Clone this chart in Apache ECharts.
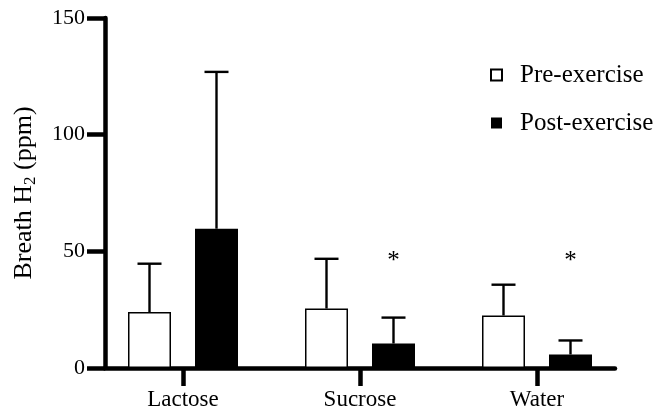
<!DOCTYPE html>
<html><head><meta charset="utf-8">
<script src="https://cdn.jsdelivr.net/npm/echarts@6/dist/echarts.min.js"></script>
<style>html,body{margin:0;padding:0;background:#fff}#c{width:654px;height:415px}</style>
</head><body><div id="c"></div>
<script>
const categories = ['Lactose', 'Sucrose', 'Water'];
const seriesNames = ['Pre-exercise', 'Post-exercise'];
const preMean = [24, 25.5, 22.5];
const preSD = [20.7, 21.3, 13.2];
const postMean = [59.7, 10.5, 5.8];
const postSD = [67.2, 11.1, 6.0];
const sigMarks = ['', '*', '*'];
const sigLevel = 45.5;
const yMin = 0, yMax = 150, yInterval = 50;

const FONT = '"Liberation Serif", "Times New Roman", Times, serif';
const BAR_W = 43;
const BAR_GAP_PX = 24;
const OFFSET = (BAR_W + BAR_GAP_PX) / 2;
const CAP = 12;

function errData(mean, sd) {
  return categories.map((c, i) => [i, mean[i], mean[i] + sd[i]]);
}

function errRender(sign) {
  return function (params, api) {
    const i = api.value(0);
    const base = api.coord([i, api.value(1)]);
    const top = api.coord([i, api.value(2)]);
    const x = base[0] + sign * OFFSET;
    const st = { stroke: '#000', lineWidth: 2.4 };
    return {
      type: 'group',
      children: [
        { type: 'line', shape: { x1: x, y1: base[1], x2: x, y2: top[1] }, style: st },
        { type: 'line', shape: { x1: x - CAP, y1: top[1], x2: x + CAP, y2: top[1] }, style: st }
      ]
    };
  };
}

const chart = echarts.init(document.getElementById('c'), null, { renderer: 'canvas' });
const option = {
  animation: false,
  backgroundColor: '#fff',
  textStyle: { fontFamily: FONT, color: '#000' },
  grid: [
    { left: 94.5, right: 28.5, top: 18, bottom: 47 },
    { left: 105, right: 39, top: 18, bottom: 47 }
  ],
  legend: {
    orient: 'vertical',
    left: 485,
    top: 56,
    itemWidth: 11,
    itemHeight: 11,
    itemGap: 20,
    icon: 'rect',
    textStyle: { fontFamily: FONT, fontSize: 25, color: '#000', lineHeight: 28, padding: [0, 0, 0, 13] },
    data: seriesNames
  },
  xAxis: [
    {
      type: 'category', gridIndex: 0, data: categories,
      axisLine: { show: false },
      axisTick: { show: true, alignWithLabel: true, length: 18, lineStyle: { color: '#000', width: 4.5 } },
      axisLabel: { fontFamily: FONT, fontSize: 23, color: '#000', margin: 20 }
    },
    {
      type: 'value', gridIndex: 1, min: 0, max: 1,
      axisLine: { show: true, lineStyle: { color: '#000', width: 4.5 } },
      axisTick: { show: false }, axisLabel: { show: false }, splitLine: { show: false }
    }
  ],
  yAxis: [
    {
      type: 'value', gridIndex: 0, min: yMin, max: yMax, interval: yInterval,
      show: false
    },
    {
      type: 'value', gridIndex: 1, min: yMin, max: yMax, interval: yInterval,
      axisLine: { show: true, lineStyle: { color: '#000', width: 4.5 } },
      axisTick: { show: true, inside: false, length: 18, lineStyle: { color: '#000', width: 4.5 } },
      axisLabel: { fontFamily: FONT, fontSize: 22, color: '#000', margin: 20 },
      splitLine: { show: false },
      name: '{n|Breath H}{s|2}{n| (ppm)}',
      nameLocation: 'middle',
      nameGap: 66,
      nameTextStyle: {
        rich: {
          n: { fontFamily: FONT, fontSize: 26, color: '#000', lineHeight: 30 },
          s: { fontFamily: FONT, fontSize: 17, color: '#000', lineHeight: 30, verticalAlign: 'bottom' }
        }
      }
    }
  ],
  series: [
    {
      name: seriesNames[0], type: 'bar', xAxisIndex: 0, yAxisIndex: 0,
      data: preMean, barWidth: BAR_W, barGap: (BAR_GAP_PX / BAR_W * 100) + '%',
      itemStyle: { color: '#fff', borderColor: '#000', borderWidth: 1.5 },
      z: 2
    },
    {
      name: seriesNames[1], type: 'bar', xAxisIndex: 0, yAxisIndex: 0,
      data: postMean, barWidth: BAR_W,
      itemStyle: { color: '#000', borderColor: '#000', borderWidth: 0 },
      z: 2
    },
    {
      type: 'custom', xAxisIndex: 0, yAxisIndex: 0, renderItem: errRender(-1),
      data: errData(preMean, preSD), z: 3, silent: true
    },
    {
      type: 'custom', xAxisIndex: 0, yAxisIndex: 0, renderItem: errRender(1),
      data: errData(postMean, postSD), z: 3, silent: true
    },
    {
      type: 'custom', xAxisIndex: 0, yAxisIndex: 0, z: 4, silent: true,
      data: categories.map((c, i) => [i, sigLevel, sigMarks[i]]),
      renderItem: function (params, api) {
        const i = api.value(0);
        const p = api.coord([i, api.value(1)]);
        const mark = sigMarks[i];
        if (!mark) return null;
        return {
          type: 'text',
          style: { text: mark, x: p[0] + OFFSET, y: p[1], align: 'center', verticalAlign: 'middle',
                   font: '25px ' + FONT, fill: '#000' }
        };
      }
    }
  ]
};
chart.setOption(option);
</script>
</body></html>
